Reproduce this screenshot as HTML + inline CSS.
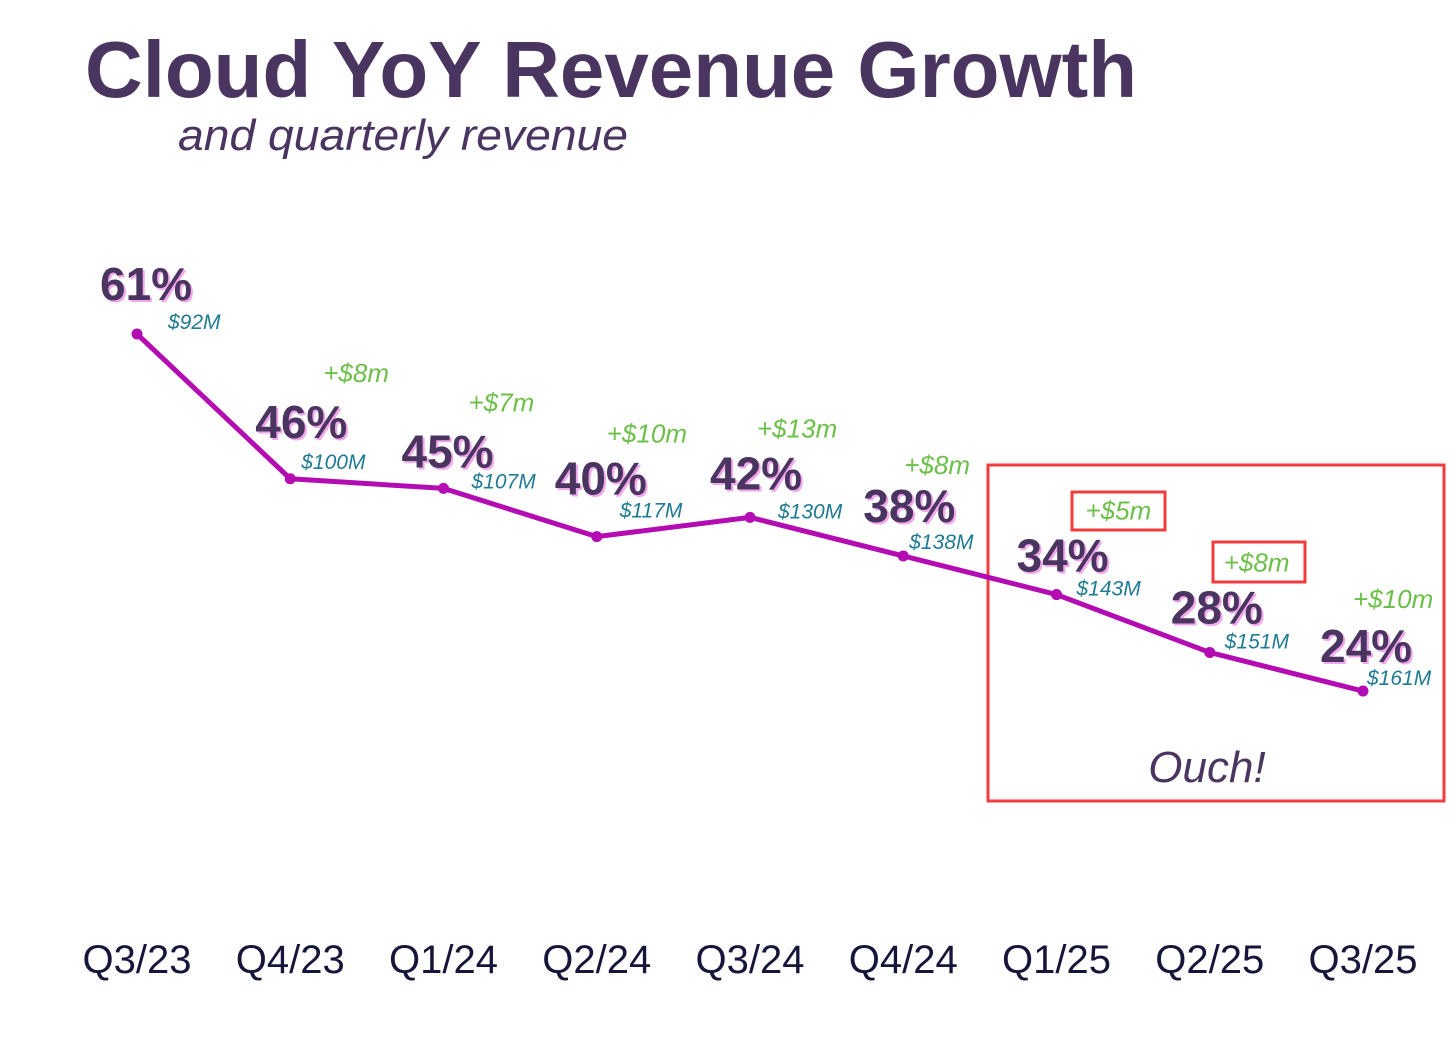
<!DOCTYPE html>
<html><head><meta charset="utf-8"><style>
html,body{margin:0;padding:0;background:#fff;}
svg{display:block;font-family:"Liberation Sans",sans-serif;}
.pct{font-size:46px;font-weight:bold;fill:#4a3560;}
.rev{font-size:21px;font-style:italic;fill:#1f7a94;}
.gr{font-size:26px;font-style:italic;fill:#6cc04a;}
.xl{font-size:40px;fill:#16163a;}
</style></head><body>
<svg id="chart" width="1456" height="1048" viewBox="0 0 1456 1048">
<text x="85" y="97" font-size="80" font-weight="bold" fill="#4a3560" textLength="1052" lengthAdjust="spacingAndGlyphs">Cloud YoY Revenue Growth</text>
<text x="178" y="150" font-size="44" font-style="italic" fill="#4a3560" textLength="450" lengthAdjust="spacingAndGlyphs">and quarterly revenue</text>
<rect x="988" y="465" width="456" height="336" fill="none" stroke="#f03c3c" stroke-width="3"/>
<rect x="1072" y="492" width="93" height="38" fill="none" stroke="#f03c3c" stroke-width="3"/>
<rect x="1213" y="542" width="92" height="40" fill="none" stroke="#f03c3c" stroke-width="3"/>
<text x="1207" y="782" text-anchor="middle" font-size="44" font-style="italic" fill="#4a3560">Ouch!</text>
<g id="marks"></g>
</svg>
<script>
const categories = ["Q3/23","Q4/23","Q1/24","Q2/24","Q3/24","Q4/24","Q1/25","Q2/25","Q3/25"];
const growth = [61,46,45,40,42,38,34,28,24];
const revenue = [92,100,107,117,130,138,143,151,161];

// layout (label offsets relative to each point), not data
const pctOff = [[-37,-34],[-35,-41],[-42,-21],[-42,-42],[-40,-28],[-40,-34],[-40,-23],[-39,-29],[-43,-29]];
const revOff = [[31,-5],[11,-10],[28,0],[23,-19],[28,1],[6,-7],[20,1],[15,-4],[4,-6]];
const grOff = [[33,-97],[25,-77],[10,-94],[7,-80],[1,-82],[29,-75],[14,-81],[-10,-83]];

const x = i => 137 + i * (1363 - 137) / (categories.length - 1);
const y = v => 334 + (61 - v) * 9.65;
const NS = "http://www.w3.org/2000/svg";
const g = document.getElementById("marks");
function mk(tag, attrs, txt){
  const e = document.createElementNS(NS, tag);
  for (const k in attrs) e.setAttribute(k, attrs[k]);
  if (txt !== undefined) e.textContent = txt;
  g.appendChild(e); return e;
}
const line = mk("polyline", {points: growth.map((v,i)=>x(i)+","+y(v)).join(" "), fill:"none", stroke:"#b30cb3", "stroke-width":5, "stroke-linejoin":"round"});


growth.forEach((v,i)=>{
  const c = mk("circle", {cx:x(i), cy:y(v), r:5.5, fill:"#b30cb3"});
  
  
  const sh = mk("text", {x:x(i)+pctOff[i][0]+2, y:y(v)+pctOff[i][1]+2, class:"pct", style:"fill:#f2a6ec"}, v+"%");
  
  
  const t = mk("text", {x:x(i)+pctOff[i][0], y:y(v)+pctOff[i][1], class:"pct"}, v+"%");
  
  
  const r = mk("text", {x:x(i)+revOff[i][0], y:y(v)+revOff[i][1], class:"rev"}, "$"+revenue[i]+"M");
  
  
  if (i > 0) {
    const d = revenue[i] - revenue[i-1];
    const gt = mk("text", {x:x(i)+grOff[i-1][0], y:y(v)+grOff[i-1][1], class:"gr"}, "+$"+d+"m");
    
    
  }
  const xl = mk("text", {x:x(i), y:973, class:"xl", "text-anchor":"middle"}, categories[i]);
  
  
});
</script>
</body></html>
